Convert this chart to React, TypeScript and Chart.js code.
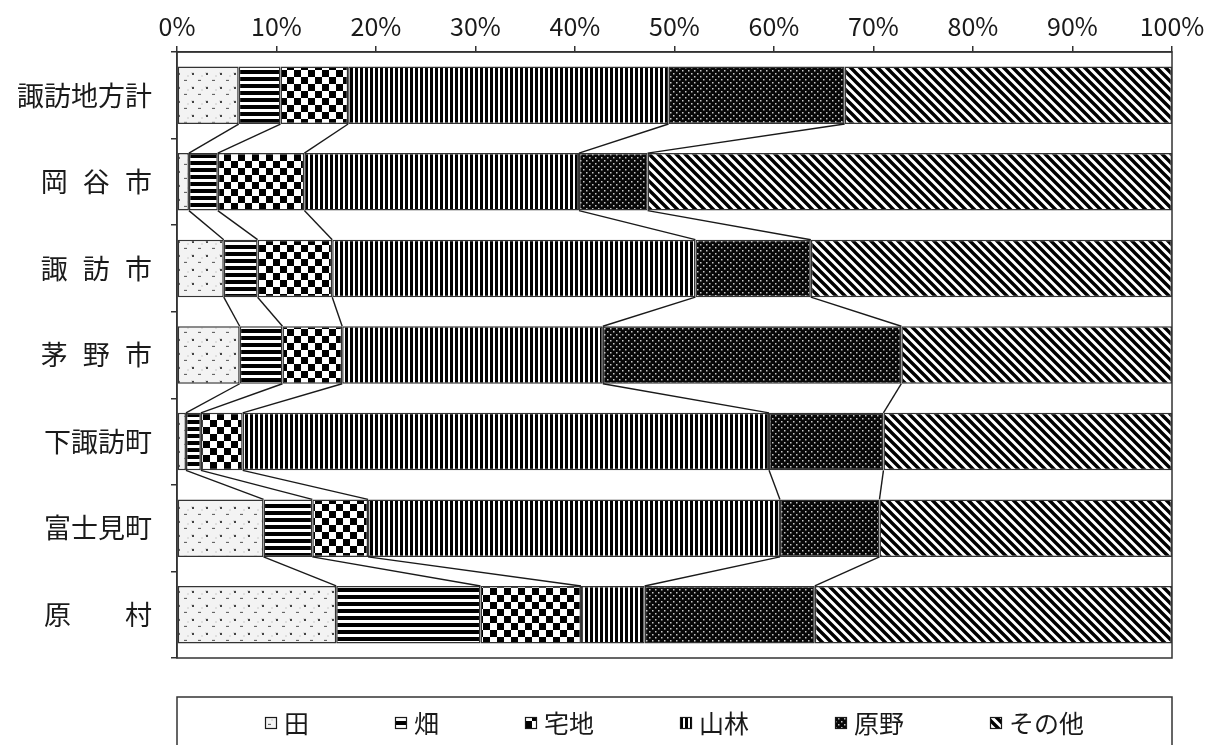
import React, { useEffect, useRef } from 'react';
import { Chart, registerables } from 'chart.js';

Chart.register(...registerables);

// ---- data ----
const categories = [
  '諏訪地方計',
  '岡\u2002\u200A谷\u2002\u200A市',
  '諏\u2002\u200A訪\u2002\u200A市',
  '茅\u2002\u200A野\u2002\u200A市',
  '下諏訪町',
  '富士見町',
  '原\u3000\u3000村',
];
const seriesNames = ['田', '畑', '宅地', '山林', '原野', 'その他'];
const paddy = [6.2, 1.2, 4.7, 6.3, 0.9, 8.7, 16.0];
const upland = [4.2, 2.9, 3.4, 4.3, 1.5, 4.9, 14.5];
const residential = [6.8, 8.7, 7.5, 6.0, 4.2, 5.6, 10.1];
const forest = [32.2, 27.6, 36.5, 26.2, 52.9, 41.4, 6.4];
const wilderness = [17.7, 6.9, 11.6, 30.0, 11.5, 10.0, 17.1];
const other = [32.9, 52.7, 36.3, 27.2, 29.0, 29.4, 35.9];
const xTickValues = [0, 10, 20, 30, 40, 50, 60, 70, 80, 90, 100];
const xTickLabels = ['0%', '10%', '20%', '30%', '40%', '50%', '60%', '70%', '80%', '90%', '100%'];

const FONT = "'Noto Sans CJK JP', 'Noto Sans', sans-serif";
const INK = '#1a1a1a';
const LINE = '#333';

type PatKind = 'paddy' | 'upland' | 'residential' | 'forest' | 'wilderness' | 'other';

function makePattern(kind: PatKind): CanvasPattern | string {
  const c = document.createElement('canvas');
  const g = c.getContext('2d');
  if (!g) return '#888';
  if (kind === 'paddy') {
    c.width = 14; c.height = 14;
    g.fillStyle = '#f3f3f3'; g.fillRect(0, 0, 14, 14);
    g.fillStyle = '#dedede';
    g.fillRect(2, 9, 3, 2); g.fillRect(9, 2, 3, 2); g.fillRect(5, 5, 2, 2);
    g.fillStyle = '#444'; g.fillRect(10, 3, 2, 2);
    g.fillStyle = '#666'; g.fillRect(2, 10, 3, 1);
  } else if (kind === 'upland') {
    c.width = 4; c.height = 7;
    g.fillStyle = '#fff'; g.fillRect(0, 0, 4, 7);
    g.fillStyle = '#000'; g.fillRect(0, 0, 4, 4);
  } else if (kind === 'residential') {
    c.width = 14; c.height = 14;
    g.fillStyle = '#fff'; g.fillRect(0, 0, 14, 14);
    g.fillStyle = '#000'; g.fillRect(0, 0, 7, 7); g.fillRect(7, 7, 7, 7);
  } else if (kind === 'forest') {
    c.width = 5; c.height = 4;
    g.fillStyle = '#fff'; g.fillRect(0, 0, 5, 4);
    g.fillStyle = '#000'; g.fillRect(0, 0, 3, 4);
  } else if (kind === 'wilderness') {
    c.width = 6; c.height = 6;
    g.fillStyle = '#080808'; g.fillRect(0, 0, 6, 6);
    g.fillStyle = '#c8c8c8';
    g.fillRect(1, 1, 1.5, 1.5); g.fillRect(4, 4, 1.5, 1.5);
  } else {
    c.width = 9; c.height = 9;
    g.fillStyle = '#fff'; g.fillRect(0, 0, 9, 9);
    g.strokeStyle = '#000'; g.lineWidth = 3.4; g.lineCap = 'square';
    g.beginPath();
    g.moveTo(-2, -2); g.lineTo(11, 11);
    g.moveTo(-2, 7); g.lineTo(2, 11);
    g.moveTo(7, -2); g.lineTo(11, 2);
    g.stroke();
  }
  const p = g.createPattern(c, 'repeat');
  return p || '#888';
}

const seriesLinesPlugin = {
  id: 'seriesLines',
  afterDatasetsDraw(chart: any) {
    const ctx = chart.ctx;
    const n = chart.data.datasets.length;
    ctx.save();
    ctx.strokeStyle = INK;
    ctx.lineWidth = 1.4;
    for (let d = 0; d < n - 1; d++) {
      const meta = chart.getDatasetMeta(d);
      for (let i = 0; i < meta.data.length - 1; i++) {
        const a = meta.data[i].getProps(['x', 'y', 'height'], true);
        const b = meta.data[i + 1].getProps(['x', 'y', 'height'], true);
        ctx.beginPath();
        ctx.moveTo(a.x, a.y + a.height / 2);
        ctx.lineTo(b.x, b.y - b.height / 2);
        ctx.stroke();
      }
    }
    ctx.restore();
  },
};

const framePlugin = {
  id: 'frame',
  afterDraw(chart: any) {
    const { ctx, chartArea: ca } = chart;
    ctx.save();
    ctx.strokeStyle = LINE;
    ctx.lineWidth = 1.5;
    ctx.strokeRect(ca.left, ca.top, ca.right - ca.left, ca.bottom - ca.top);
    ctx.restore();
  },
};

const legendBoxPlugin = {
  id: 'legendBox',
  afterDraw(chart: any) {
    const { ctx, chartArea: ca } = chart;
    const top = ca.bottom + 39;
    ctx.save();
    ctx.strokeStyle = LINE;
    ctx.lineWidth = 1.5;
    ctx.strokeRect(ca.left, top, ca.right - ca.left, chart.height + 20 - top);
    ctx.font = `25px ${FONT}`;
    ctx.textBaseline = 'middle';
    ctx.textAlign = 'left';
    const icon = 12, iconGap = 7, itemGap = 86;
    const ds = chart.data.datasets;
    const widths = ds.map((d: any) => icon + iconGap + ctx.measureText(d.label).width);
    const total = widths.reduce((s: number, w: number) => s + w, 0) + itemGap * (ds.length - 1);
    let x = (ca.left + ca.right) / 2 - total / 2;
    const cy = top + 26;
    ds.forEach((d: any, i: number) => {
      ctx.fillStyle = d.backgroundColor;
      ctx.fillRect(x, cy - icon / 2, icon, icon);
      ctx.strokeStyle = INK;
      ctx.lineWidth = 1.2;
      ctx.strokeRect(x + 0.5, cy - icon / 2 + 0.5, icon - 1, icon - 1);
      ctx.fillStyle = INK;
      ctx.fillText(d.label, x + icon + iconGap, cy);
      x += widths[i] + itemGap;
    });
    ctx.restore();
  },
};

export default function App() {
  const ref = useRef<HTMLCanvasElement | null>(null);
  useEffect(() => {
    document.body.style.margin = '0';
    const canvas = ref.current;
    if (!canvas) return;
    const kinds: PatKind[] = ['paddy', 'upland', 'residential', 'forest', 'wilderness', 'other'];
    const values = [paddy, upland, residential, forest, wilderness, other];
    const chart = new Chart(canvas, {
      type: 'bar',
      data: {
        labels: categories,
        datasets: seriesNames.map((name, k) => ({
          label: name,
          data: values[k],
          backgroundColor: makePattern(kinds[k]) as any,
          borderColor: LINE,
          borderWidth: 1.5,
          borderSkipped: false,
          barPercentage: 0.664,
          categoryPercentage: 1,
        })),
      },
      options: {
        indexAxis: 'y',
        responsive: false,
        animation: false,
        layout: { padding: { left: 0, top: 0, right: 41, bottom: 87 } },
        plugins: { legend: { display: false }, tooltip: { enabled: false } },
        scales: {
          x: {
            type: 'linear',
            position: 'top',
            stacked: true,
            min: 0,
            max: 100,
            afterBuildTicks: (s: any) => {
              s.ticks = xTickValues.map((v) => ({ value: v }));
            },
            ticks: {
              autoSkip: false,
              maxRotation: 0,
              color: INK,
              font: { family: FONT, size: 25 },
              padding: 5,
              callback: (v: any) => xTickLabels[xTickValues.indexOf(Number(v))] ?? '',
            },
            grid: { drawOnChartArea: false, drawTicks: true, tickLength: 6, color: LINE, lineWidth: 1.5 },
            border: { display: true, color: LINE, width: 1.5 },
            afterFit: (s: any) => { s.height = 52; },
          },
          y: {
            type: 'category',
            stacked: true,
            ticks: { color: INK, font: { family: FONT, size: 27 }, padding: 19 },
            grid: { offset: true, drawOnChartArea: false, drawTicks: true, tickLength: 6, color: LINE, lineWidth: 1.5 },
            border: { display: true, color: LINE, width: 1.5 },
            afterFit: (s: any) => { s.width = 177; },
          },
        },
      } as any,
      plugins: [seriesLinesPlugin, framePlugin, legendBoxPlugin],
    });
    return () => chart.destroy();
  }, []);
  return (
    <div style={{ width: 1213, height: 745, background: '#fff' }}>
      <canvas ref={ref} width={1213} height={745} style={{ display: 'block', width: 1213, height: 745 }} />
    </div>
  );
}
